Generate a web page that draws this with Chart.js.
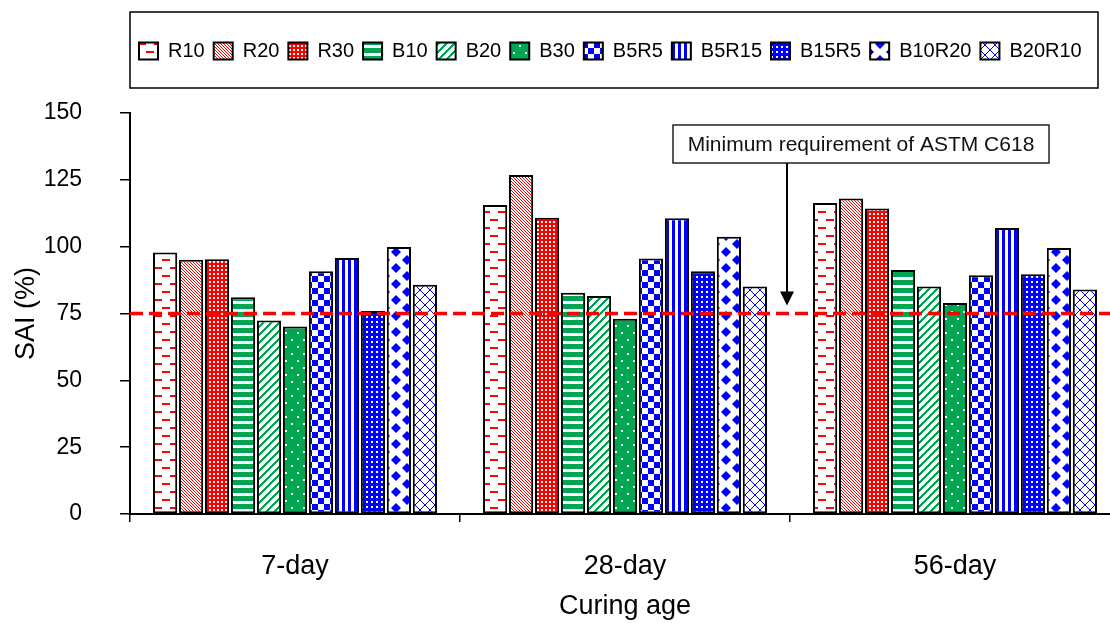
<!DOCTYPE html>
<html lang="en">
<head>
<meta charset="UTF-8">
<title>SAI vs curing age</title>
<script src="https://cdn.jsdelivr.net/npm/chart.js"></script>
<style>
  body { margin: 0; background: #fff; overflow: hidden; }
  canvas { display: block; }
</style>
</head>
<body>
<canvas id="saiChart" width="1120" height="623"></canvas>
<script>
// curing ages on the x axis and mix names in the legend
const ages = ['7-day', '28-day', '56-day'];
const mixes = ['R10', 'R20', 'R30', 'B10', 'B20', 'B30', 'B5R5', 'B5R15', 'B15R5', 'B10R20', 'B20R10'];
const yTicks = [0, 25, 50, 75, 100, 125, 150];

// strength activity index (%) at 7, 28 and 56 days
const R10    = [97.8, 115.6, 116.3];
const R20    = [95.1, 126.8, 118.0];
const R30    = [95.3, 110.8, 114.3];
const B10    = [81.1, 82.8, 91.3];
const B20    = [72.4, 81.5, 85.1];
const B30    = [70.1, 73.0, 78.9];
const B5R5   = [90.8, 95.6, 89.3];
const B5R15  = [95.8, 110.6, 107.0];
const B15R5  = [75.9, 90.8, 89.7];
const B10R20 = [99.9, 103.7, 99.5];
const B20R10 = [85.8, 85.1, 84.0];
const series = [R10, R20, R30, B10, B20, B30, B5R5, B5R15, B15R5, B10R20, B20R10];

const minSAI = 75; // ASTM C618 limit

const RED = '#ff0000', GREEN = '#00a651', BLUE = '#0000ff', WHITE = '#ffffff';
const FONT = '"Liberation Sans", Arial, sans-serif';

// small repeating tiles used as bar fills
function tile(w, h, bg, paint) {
    const c = document.createElement('canvas');
    c.width = w;
    c.height = h;
    const g = c.getContext('2d');
    g.fillStyle = bg;
    g.fillRect(0, 0, w, h);
    paint(g);
    return g.createPattern(c, 'repeat');
}

function diamond(g, cx, cy, r) {
    g.beginPath();
    g.moveTo(cx, cy - r);
    g.lineTo(cx + r, cy);
    g.lineTo(cx, cy + r);
    g.lineTo(cx - r, cy);
    g.closePath();
    g.fill();
}

const fills = [
    // R10 - dashed horizontal
    tile(16, 16, WHITE, g => {
        g.fillStyle = RED;
        g.fillRect(2, 3, 8, 2);
        g.fillRect(10, 11, 6, 2);
        g.fillRect(0, 11, 2, 2);
    }),
    // R20 - downward diagonal
    tile(3, 3, WHITE, g => {
        g.fillStyle = RED;
        for (let i = 0; i < 3; i++) g.fillRect(i, i, 1, 1);
    }),
    // R30 - red with white dots
    tile(4, 4, RED, g => {
        g.fillStyle = WHITE;
        g.fillRect(1, 1, 2, 2);
    }),
    // B10 - horizontal stripes
    tile(1, 8, WHITE, g => {
        g.fillStyle = GREEN;
        g.fillRect(0, 0, 1, 5);
    }),
    // B20 - wide upward diagonal
    tile(8, 8, WHITE, g => {
        g.fillStyle = GREEN;
        for (let x = 0; x < 8; x++)
            for (let y = 0; y < 8; y++)
                if ((x + y) % 8 < 3) g.fillRect(x, y, 1, 1);
    }),
    // B30 - green with sparse dots
    tile(12, 14, GREEN, g => {
        g.fillStyle = WHITE;
        g.fillRect(3, 3, 2, 2);
        g.fillRect(9, 10, 2, 2);
    }),
    // B5R5 - checkerboard
    tile(12, 12, WHITE, g => {
        g.fillStyle = BLUE;
        g.fillRect(0, 0, 6, 6);
        g.fillRect(6, 6, 6, 6);
    }),
    // B5R15 - vertical stripes
    tile(6, 1, WHITE, g => {
        g.fillStyle = BLUE;
        g.fillRect(0, 0, 3, 1);
    }),
    // B15R5 - blue with white dots
    tile(5, 5, BLUE, g => {
        g.fillStyle = WHITE;
        g.fillRect(1, 1, 2, 2);
    }),
    // B10R20 - solid diamonds
    tile(22, 16, WHITE, g => {
        g.fillStyle = BLUE;
        diamond(g, 11, 4, 5);
        diamond(g, 0, 12, 5);
        diamond(g, 22, 12, 5);
        diamond(g, 11, 20, 5);
        diamond(g, 0, -4, 5);
        diamond(g, 22, -4, 5);
    }),
    // B20R10 - thin diagonal lattice
    tile(10, 10, WHITE, g => {
        g.fillStyle = BLUE;
        for (let i = 0; i < 10; i++) {
            g.fillRect(i, i, 1, 1);
            g.fillRect(9 - i, i, 1, 1);
        }
    })
];

// extra room under the legend
const legendGap = {
    id: 'legendGap',
    beforeInit(chart) {
        const fit = chart.legend.fit;
        chart.legend.fit = function () {
            fit.bind(chart.legend)();
            this.height += 42;
        };
    }
};

// dashed 75% line, ASTM callout and legend frame
const extras = {
    id: 'extras',
    afterDatasetsDraw(chart) {
        const { ctx, chartArea, scales: { y } } = chart;
        const yMin = y.getPixelForValue(minSAI);
        ctx.save();
        ctx.strokeStyle = RED;
        ctx.lineWidth = 3.5;
        ctx.setLineDash([13, 6]);
        ctx.beginPath();
        ctx.moveTo(chartArea.left, yMin);
        ctx.lineTo(chart.width, yMin);
        ctx.stroke();
        ctx.restore();
    },
    afterDraw(chart) {
        const { ctx, chartArea, legend, scales: { x, y } } = chart;
        ctx.save();

        // legend frame
        ctx.strokeStyle = '#000';
        ctx.lineWidth = 1.5;
        ctx.strokeRect(chartArea.left, legend.top - 20, 968, 76);

        // callout box
        const ax = (x.getPixelForValue(1) + x.getPixelForValue(2)) / 2 - 3;
        const top = 125, bottom = 163;
        ctx.fillStyle = '#fff';
        ctx.fillRect(ax - 114, top, 376, bottom - top);
        ctx.strokeStyle = '#222';
        ctx.lineWidth = 1.5;
        ctx.strokeRect(ax - 114, top, 376, bottom - top);
        ctx.fillStyle = '#111';
        ctx.font = '21px ' + FONT;
        ctx.textAlign = 'center';
        ctx.textBaseline = 'middle';
        ctx.fillText('Minimum requirement of ASTM C618', ax + 74, (top + bottom) / 2 + 1);

        // arrow down to the limit line
        const tip = y.getPixelForValue(78);
        ctx.strokeStyle = '#000';
        ctx.lineWidth = 2;
        ctx.beginPath();
        ctx.moveTo(ax, bottom);
        ctx.lineTo(ax, tip - 12);
        ctx.stroke();
        ctx.fillStyle = '#000';
        ctx.beginPath();
        ctx.moveTo(ax - 7, tip - 14);
        ctx.lineTo(ax + 7, tip - 14);
        ctx.lineTo(ax, tip);
        ctx.closePath();
        ctx.fill();
        ctx.restore();
    }
};

Chart.defaults.font.family = FONT;
Chart.defaults.color = '#000';

new Chart(document.getElementById('saiChart'), {
    type: 'bar',
    data: {
        labels: ages,
        datasets: mixes.map((name, i) => ({
            label: name,
            data: series[i],
            backgroundColor: fills[i],
            borderColor: '#000',
            borderWidth: 2,
            borderSkipped: false,
            barPercentage: 0.93,
            categoryPercentage: 0.866
        }))
    },
    options: {
        responsive: false,
        animation: false,
        layout: { padding: { top: 32, left: 0, right: 0, bottom: 0 } },
        plugins: {
            legend: {
                position: 'top',
                align: 'start',
                fullSize: false,
                labels: {
                    boxWidth: 19,
                    boxHeight: 17,
                    padding: 9,
                    font: { size: 20 },
                    color: '#000'
                }
            },
            tooltip: { enabled: false }
        },
        scales: {
            x: {
                offset: true,
                grid: { offset: true, drawOnChartArea: false, tickLength: 8, color: '#000', lineWidth: 1.5 },
                border: { color: '#000', width: 2 },
                ticks: { font: { size: 27 }, padding: 28, color: '#000' },
                title: { display: true, text: 'Curing age', font: { size: 27 }, padding: { top: 0, bottom: 0 } },
                afterFit: s => { s.height = 109; }
            },
            y: {
                min: 0,
                max: 150,
                afterBuildTicks: s => { s.ticks = yTicks.map(v => ({ value: v })); },
                grid: { drawOnChartArea: false, tickLength: 10, color: '#000', lineWidth: 1.5 },
                border: { color: '#000', width: 2 },
                ticks: { font: { size: 23 }, padding: 38, color: '#000' },
                title: { display: true, text: 'SAI (%)', font: { size: 27 }, padding: { top: 10, bottom: 0 } },
                afterFit: s => { s.width = 130; }
            }
        }
    },
    plugins: [legendGap, extras]
});
</script>
</body>
</html>
